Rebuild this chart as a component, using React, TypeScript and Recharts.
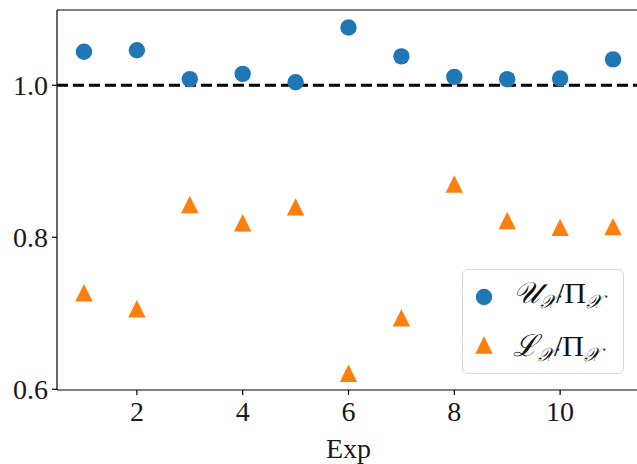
import { ScatterChart, Scatter, XAxis, YAxis, ReferenceLine, Legend } from 'recharts';

const exps = [1, 2, 3, 4, 5, 6, 7, 8, 9, 10, 11];
const upperRatio = [1.044, 1.046, 1.008, 1.015, 1.004, 1.076, 1.038, 1.011, 1.008, 1.009, 1.034];
const lowerRatio = [0.727, 0.706, 0.843, 0.819, 0.840, 0.621, 0.694, 0.870, 0.822, 0.813, 0.814];
const xTicks = [2, 4, 6, 8, 10];
const yTicks = [0.6, 0.8, 1.0];

const upperData = exps.map((e, i) => ({ exp: e, value: upperRatio[i] }));
const lowerData = exps.map((e, i) => ({ exp: e, value: lowerRatio[i] }));

const BLUE = '#1f77b4';
const ORANGE = '#ff7f0e';
const serif = 'Liberation Serif';
const Y_MIN = 0.599;
const Y_MAX = 1.099;

const Dot = (props: any) => <circle cx={props.cx} cy={props.cy} r={8.2} fill={BLUE} />;

const Tri = (props: any) => {
  const { cx, cy } = props;
  const h = 8.7;
  return <polygon points={`${cx},${cy - h} ${cx - h},${cy + h} ${cx + h},${cy + h}`} fill={ORANGE} />;
};

const sub = { fontSize: 19, verticalAlign: '-5px', fontStyle: 'italic' as const };

function MathLabel({ main }: { main: string }) {
  return (
    <span style={{ fontFamily: serif, fontSize: 30, color: '#111', whiteSpace: 'nowrap' }}>
      <span style={{ fontStyle: 'italic' }}>{main}</span>
      <span style={sub}>𝒳</span>
      <span>/Π</span>
      <span style={sub}>𝒳</span>
    </span>
  );
}

function LegendBox() {
  return (
    <div
      style={{
        width: 160,
        height: 103,
        border: '1.5px solid #d6d6d6',
        borderRadius: 6,
        background: 'rgba(255,255,255,0.85)',
        position: 'relative',
      }}
    >
      <svg width={40} height={103} style={{ position: 'absolute', left: 0, top: 0 }}>
        <circle cx={21} cy={27} r={8.2} fill={BLUE} />
        <polygon points="21,66.3 12.3,83.7 29.7,83.7" fill={ORANGE} />
      </svg>
      <div style={{ position: 'absolute', left: 50, top: 6 }}>
        <MathLabel main="𝒰" />
      </div>
      <div style={{ position: 'absolute', left: 50, top: 54 }}>
        <MathLabel main="ℒ" />
      </div>
    </div>
  );
}

export default function App() {
  return (
    <div style={{ position: 'absolute', left: 0, top: 0, width: 637, height: 464, overflow: 'hidden', background: '#fff' }}>
      <ScatterChart width={640} height={464} margin={{ top: 10, right: 0, bottom: 0, left: 0 }}>
        <XAxis
          type="number"
          dataKey="exp"
          domain={[0.49, 11.51]}
          ticks={xTicks}
          allowDataOverflow
          height={74}
          tickSize={5}
          tickMargin={6}
          stroke="#000"
          strokeWidth={1.2}
          tick={{ fill: '#1a1a1a', fontSize: 28, fontFamily: serif }}
          label={{ value: 'Exp', position: 'insideBottom', offset: 6, fill: '#1a1a1a', fontSize: 28, fontFamily: serif }}
        />
        <YAxis
          type="number"
          dataKey="value"
          domain={[Y_MIN, Y_MAX]}
          ticks={yTicks}
          allowDataOverflow
          width={57}
          tickSize={5}
          tickMargin={4}
          stroke="#000"
          strokeWidth={1.2}
          tickFormatter={(v: number) => v.toFixed(1)}
          tick={{ fill: '#1a1a1a', fontSize: 28, fontFamily: serif }}
        />
        <ReferenceLine y={Y_MAX} stroke="#000" strokeWidth={1.2} />
        <ReferenceLine y={1} stroke="#000" strokeWidth={3} strokeDasharray="11 5" />
        <Scatter data={upperData} fill={BLUE} shape={Dot} isAnimationActive={false} />
        <Scatter data={lowerData} fill={ORANGE} shape={Tri} isAnimationActive={false} />
        <Legend
          layout="horizontal"
          verticalAlign="middle"
          align="center"
          content={() => <LegendBox />}
          wrapperStyle={{ position: 'absolute', left: 462, top: 269, width: 'auto', height: 'auto' }}
        />
      </ScatterChart>
    </div>
  );
}
